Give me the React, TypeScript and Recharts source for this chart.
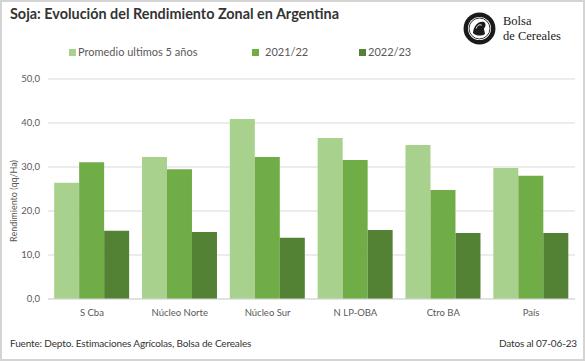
import React from "react";
import { BarChart, Bar, XAxis, YAxis, CartesianGrid, Legend } from "recharts";

const zones = ["S Cba", "Núcleo Norte", "Núcleo Sur", "N LP-OBA", "Ctro BA", "País"];
const promedio5 = [26.4, 32.3, 40.9, 36.6, 35.0, 29.8];
const campania2122 = [31.1, 29.5, 32.3, 31.6, 24.8, 28.0];
const campania2223 = [15.5, 15.2, 13.9, 15.7, 15.0, 15.0];
const yTicks = [0, 10, 20, 30, 40, 50];

const seriesNames = ["Promedio ultimos 5 años", "2021/22", "2022/23"];
const colors = ["#a9d18e", "#70ad47", "#548235"];

const data = zones.map((zone, i) => ({
  zone,
  prom: promedio5[i],
  c2122: campania2122[i],
  c2223: campania2223[i],
}));

const font = "Lato, Carlito, 'Open Sans', sans-serif";

// legend spaced like the Excel original
const LegendRow = () => {
  const squares = [69, 252, 359];
  const texts = [78, 265, 368];
  return (
    <div style={{ position: "relative", height: 16, width: 585 }}>
      {seriesNames.map((name, i) => (
        <React.Fragment key={name}>
          <span
            style={{
              position: "absolute",
              left: squares[i],
              top: 5,
              width: 7,
              height: 7,
              background: colors[i],
            }}
          />
          <span
            style={{
              position: "absolute",
              left: texts[i],
              top: 1,
              fontSize: 11,
              lineHeight: "14px",
              color: "#595959",
              fontFamily: font,
              whiteSpace: "nowrap",
            }}
          >
            {name}
          </span>
        </React.Fragment>
      ))}
    </div>
  );
};

const Logo = () => (
  <div style={{ position: "absolute", left: 461, top: 10, display: "flex", alignItems: "center" }}>
    <svg width={33} height={33} viewBox="0 0 30 30">
      <circle cx={15} cy={15} r={14.5} fill="#1a1a1a" />
      <circle cx={15} cy={15} r={10.5} fill="#fff" />
      <circle cx={15} cy={15} r={9.5} fill="none" stroke="#1a1a1a" strokeWidth={0.8} />
      <path d="M9 19 C 10 12, 14 8, 19 9 C 21 10, 21 13, 19 15 L 20 20 C 17 22, 12 22, 9 19 Z" fill="#1a1a1a" />
      <path d="M12 15 C 13 12, 15 11, 17 12" fill="none" stroke="#fff" strokeWidth={0.9} />
    </svg>
    <div
      style={{
        marginLeft: 7,
        fontFamily: "'Liberation Serif', serif",
        fontSize: 12.5,
        lineHeight: "14.5px",
        color: "#1a1a1a",
      }}
    >
      <div>Bolsa</div>
      <div>de Cereales</div>
    </div>
  </div>
);

const YLabel = ({ viewBox }: any) => {
  const x = 13;
  const y = viewBox.y + viewBox.height / 2 + 12;
  return (
    <text
      x={x}
      y={y}
      transform={`rotate(-90 ${x} ${y})`}
      textAnchor="middle"
      dominantBaseline="central"
      fill="#595959"
      fontSize={9}
      fontFamily={font}
    >
      Rendimiento (qq/Ha)
    </text>
  );
};

export default function App() {
  return (
    <div
      style={{
        position: "fixed",
        left: 0,
        top: 0,
        width: 585,
        height: 361,
        background: "#fff",
        boxSizing: "border-box",
        border: "2px solid #d4d4d4",
        overflow: "hidden",
      }}
    >
      <div
        style={{
          position: "absolute",
          left: 8,
          top: 3,
          fontFamily: font,
          fontWeight: 700,
          fontSize: 14.4,
          color: "#333333",
          whiteSpace: "nowrap",
        }}
      >
        Soja: Evolución del Rendimiento Zonal en Argentina
      </div>
      <Logo />
      <div style={{ position: "absolute", left: -2, top: -2 }}>
        <BarChart
          width={585}
          height={361}
          data={data}
          margin={{ top: 63, right: 10, bottom: 42, left: 0 }}
          barCategoryGap="7%"
          barGap={0}
        >
          <CartesianGrid horizontal vertical={false} stroke="#d9d9d9" />
          <XAxis
            dataKey="zone"
            height={20}
            tickLine={false}
            axisLine={{ stroke: "#d9d9d9" }}
            tick={{ fill: "#595959", fontSize: 9.5, fontFamily: font, dy: 2 }}
            interval={0}
          />
          <YAxis
            width={48}
            domain={[0, 50]}
            ticks={yTicks}
            tickLine={false}
            axisLine={false}
            tickFormatter={(v: number) => v.toFixed(1).replace(".", ",")}
            tick={{ fill: "#595959", fontSize: 9.5, fontFamily: font }}
            label={<YLabel />}
          />
          <Legend
            verticalAlign="top"
            align="left"
            wrapperStyle={{ top: 44, left: 0 }}
            content={() => <LegendRow />}
          />
          <Bar dataKey="prom" name={seriesNames[0]} fill={colors[0]} isAnimationActive={false} />
          <Bar dataKey="c2122" name={seriesNames[1]} fill={colors[1]} isAnimationActive={false} />
          <Bar dataKey="c2223" name={seriesNames[2]} fill={colors[2]} isAnimationActive={false} />
        </BarChart>
      </div>
      <div
        style={{
          position: "absolute",
          left: 8,
          top: 335,
          fontFamily: font,
          fontSize: 10,
          letterSpacing: -0.15,
          color: "#333333",
          whiteSpace: "nowrap",
        }}
      >
        Fuente: Depto. Estimaciones Agrícolas, Bolsa de Cereales
      </div>
      <div
        style={{
          position: "absolute",
          right: 6,
          top: 335,
          fontFamily: font,
          fontSize: 10,
          letterSpacing: -0.15,
          color: "#333333",
          whiteSpace: "nowrap",
        }}
      >
        Datos al 07-06-23
      </div>
    </div>
  );
}
